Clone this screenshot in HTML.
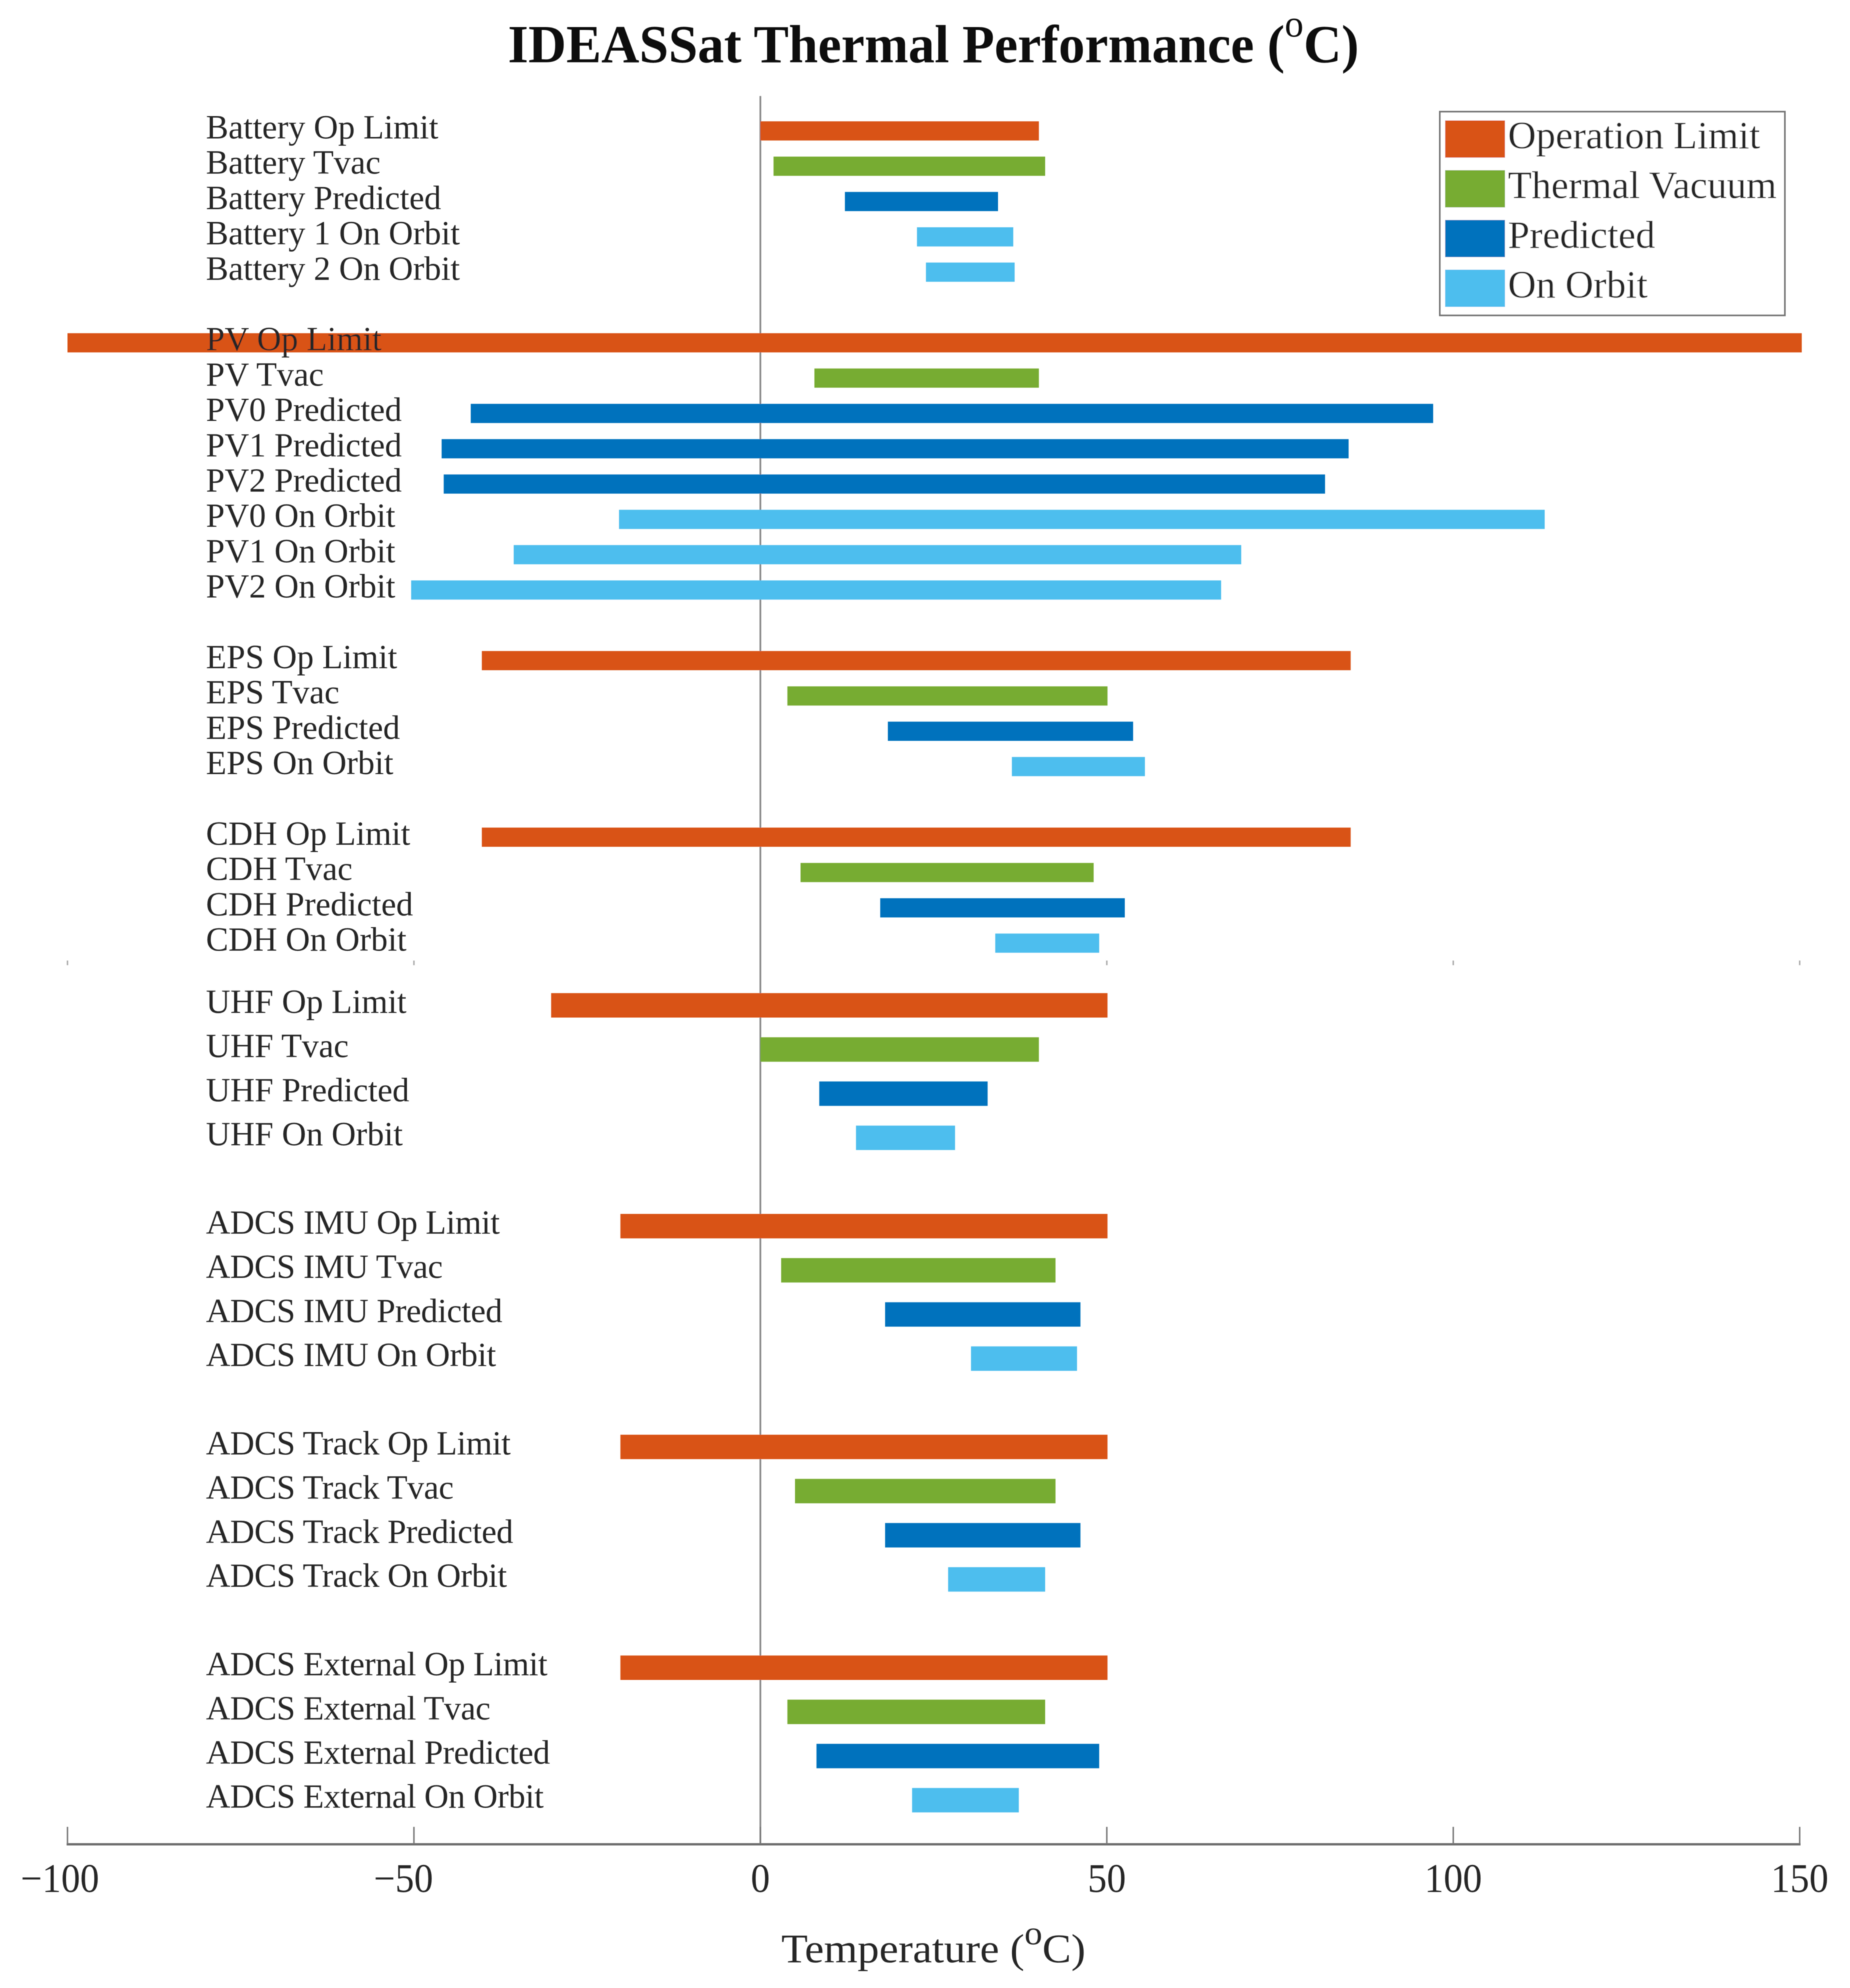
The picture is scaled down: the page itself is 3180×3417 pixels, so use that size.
<!DOCTYPE html>
<html lang="en">
<head>
<meta charset="utf-8">
<title>IDEASSat Thermal Performance</title>
<style>
html,body{margin:0;padding:0;background:#fff;}
svg{display:block;}
text{font-family:"Liberation Serif",serif;fill:#262626;}
</style>
</head>
<body>
<svg id="chart" xmlns="http://www.w3.org/2000/svg" width="3180" height="3417" viewBox="0 0 3180 3417">
  <defs><filter id="soft" x="0" y="0" width="100%" height="100%"><feGaussianBlur stdDeviation="0.9"/></filter></defs>
  <rect width="3180" height="3417" fill="#ffffff"/>
  <g id="plot" filter="url(#soft)">
    <text x="873" y="107" font-size="92" font-weight="700" style="fill:#0c0c0c" textLength="1463" lengthAdjust="spacingAndGlyphs">IDEASSat Thermal Performance (<tspan dy="-44" font-size="66" font-weight="400">o</tspan><tspan dy="44">C)</tspan></text>
    <text x="1343" y="3373" font-size="70" textLength="523" lengthAdjust="spacingAndGlyphs">Temperature (<tspan dy="-31" font-size="58">o</tspan><tspan dy="31">C)</tspan></text>
    <g id="axis-layer"></g>
    <g id="bar-layer"></g>
    <g id="label-layer"></g>
    <g id="legend-layer"></g>
  </g>
</svg>
<script>
const rowLabels = [
  'Battery Op Limit','Battery Tvac','Battery Predicted','Battery 1 On Orbit','Battery 2 On Orbit',
  'PV Op Limit','PV Tvac','PV0 Predicted','PV1 Predicted','PV2 Predicted','PV0 On Orbit','PV1 On Orbit','PV2 On Orbit',
  'EPS Op Limit','EPS Tvac','EPS Predicted','EPS On Orbit',
  'CDH Op Limit','CDH Tvac','CDH Predicted','CDH On Orbit',
  'UHF Op Limit','UHF Tvac','UHF Predicted','UHF On Orbit',
  'ADCS IMU Op Limit','ADCS IMU Tvac','ADCS IMU Predicted','ADCS IMU On Orbit',
  'ADCS Track Op Limit','ADCS Track Tvac','ADCS Track Predicted','ADCS Track On Orbit',
  'ADCS External Op Limit','ADCS External Tvac','ADCS External Predicted','ADCS External On Orbit'
];
const rowSeries = [
  0,1,2,3,3,
  0,1,2,2,2,3,3,3,
  0,1,2,3,
  0,1,2,3,
  0,1,2,3,
  0,1,2,3,
  0,1,2,3,
  0,1,2,3
];
const lowValues = [
  0,1.9,12.2,22.6,23.9,
  -100,7.8,-41.8,-46,-45.7,-20.4,-35.6,-50.4,
  -40.2,3.9,18.4,36.3,
  -40.2,5.8,17.3,33.9,
  -30.2,0,8.5,13.8,
  -20.2,3,18,30.4,
  -20.2,5,18,27.1,
  -20.2,3.9,8.1,21.9
];
const highValues = [
  40.2,41.1,34.3,36.5,36.7,
  150.3,40.2,97.1,84.9,81.5,113.2,69.4,66.5,
  85.2,50.1,53.8,55.5,
  85.2,48.1,52.6,48.9,
  50.1,40.2,32.8,28.1,
  50.1,42.6,46.2,45.7,
  50.1,42.6,46.2,41.1,
  50.1,41.1,48.9,37.3
];
const groupSizes = [5,8,4,4,4,4,4,4];
const upperGroupCount = 4;
const seriesNames = ['Operation Limit','Thermal Vacuum','Predicted','On Orbit'];
const seriesColors = ['#D95319','#77AC30','#0072BD','#4DBEEE'];
const tickValues = [-100,-50,0,50,100,150];

const NS = 'http://www.w3.org/2000/svg';
function xScale(v){ return 1307 + 11.91 * v; }
function upperY(r){ return 225 + 60.7 * r; }
function lowerY(r){ return 1728 + 75.9 * r; }
function make(tag, parent, attrs, text){
  const el = document.createElementNS(NS, tag);
  for (const k in attrs) el.setAttribute(k, attrs[k]);
  if (text !== undefined) el.textContent = text;
  parent.appendChild(el);
  return el;
}
function slug(s){ return s.toLowerCase().replace(/[^a-z0-9]+/g,'-'); }

const axisLayer = document.getElementById('axis-layer');
const barLayer = document.getElementById('bar-layer');
const labelLayer = document.getElementById('label-layer');
const legendLayer = document.getElementById('legend-layer');

/* axes */
const zeroLine = make('line', axisLayer, {x1:xScale(0), x2:xScale(0), y1:165, y2:3170, stroke:'#8a8a8a', 'stroke-width':3});


const xAxisLine = make('line', axisLayer, {x1:xScale(-100)-1.5, x2:xScale(150)+1.5, y1:3170, y2:3170, stroke:'#6e6e6e', 'stroke-width':4});



tickValues.forEach(function(v){
  const tick = make('line', axisLayer, {x1:xScale(v), x2:xScale(v), y1:3140, y2:3170, stroke:'#777', 'stroke-width':2.5});
  
  
  if (v !== 0) {
    const seam = make('line', axisLayer, {x1:xScale(v), x2:xScale(v), y1:1651, y2:1659, stroke:'#aaa', 'stroke-width':2.5});
    
    
  }
  const digits = String(Math.abs(v)).length;
  const width = digits * 33 + (v < 0 ? 36 : 0);
  const end = xScale(v) + digits * 33 / 2 + (v < 0 && digits === 3 ? 5 : 0);
  const label = make('text', axisLayer, {x:end - width, y:3252, 'font-size':70, textLength:width, lengthAdjust:'spacingAndGlyphs'}, (v < 0 ? '\u2212' : '') + Math.abs(v));
  
  
});

/* bars and labels */
let index = 0;
groupSizes.forEach(function(size, g){
  const upper = g < upperGroupCount;
  let slot = 0;
  for (let i = upper ? 0 : upperGroupCount; i < g; i++) slot += groupSizes[i] + 1;
  const yFn = upper ? upperY : lowerY;
  const barH = upper ? 33 : 42;
  for (let k = 0; k < size; k++, index++) {
    const cy = yFn(slot + k);
    const x0 = xScale(lowValues[index]);
    const x1 = xScale(highValues[index]);
    const bar = make('rect', barLayer, {x:x0, y:cy - barH / 2, width:x1 - x0, height:barH, fill:seriesColors[rowSeries[index]]});
    
    
    const label = make('text', labelLayer, {x:354, y:cy + 13, 'font-size':58}, rowLabels[index]);
    
    
    if (rowLabels[index].indexOf('ADCS') === 0) label.style.letterSpacing = '-0.35px';
  }
});

/* legend */
const legendBox = make('rect', legendLayer, {x:2475, y:192, width:593, height:350, fill:'#fff', stroke:'#777', 'stroke-width':3});


seriesNames.forEach(function(name, i){
  const top = 207 + i * 85.5;
  const swatch = make('rect', legendLayer, {x:2484, y:top, width:103, height:64, fill:seriesColors[i]});
  
  
  const text = make('text', legendLayer, {x:2592, y:top + 48, 'font-size':67}, name);
  
  
});
</script>
</body>
</html>
